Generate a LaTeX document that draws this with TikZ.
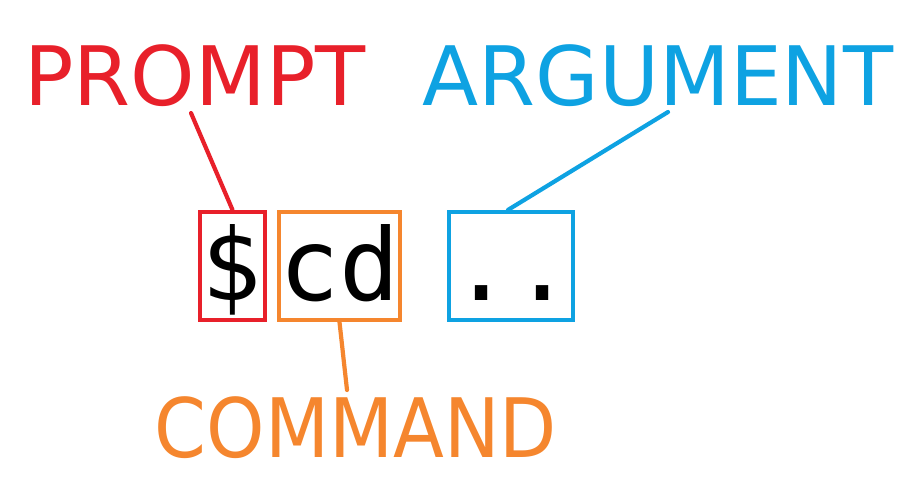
\documentclass[tikz,border=0pt]{standalone}
\usepackage{fontspec}
\usepackage{graphicx}
\setmainfont{DejaVu Sans}
\newfontfamily\cmdfont{DejaVu Sans Mono}
\definecolor{pred}{HTML}{E8202A}
\definecolor{porange}{HTML}{F5862E}
\definecolor{pblue}{HTML}{0EA2E2}
\begin{document}
\begin{tikzpicture}[x=1pt,y=-1pt,
  lbl/.style={font=\fontsize{82}{90}\selectfont, anchor=base, inner sep=0pt},
  cmd/.style={font=\cmdfont\fontsize{100}{110}\selectfont, anchor=base, inner sep=0pt, text=black},
  frame/.style={draw, line width=4.2pt, minimum height=108pt, inner sep=0pt},
  conn/.style={line width=4.2pt, line cap=round}]
\useasboundingbox (0,0) rectangle (907,482);
% labels
\node[lbl, text=pred] (prompt) at (195,105) {PROMPT};
\node[lbl, text=pblue] (argument) at (658,105) {ARGUMENT};
\node[lbl, text=porange] (command) at (356,457) {\scalebox{0.906}[1]{COMMAND}};
% boxes
\node[frame, draw=pred, minimum width=65pt] (pbox) at (232.5,266) {};
\node[frame, draw=porange, minimum width=121pt] (cbox) at (339.5,266) {};
\node[frame, draw=pblue, minimum width=124pt] (abox) at (511,266) {};
% texts
\node[cmd] (dollar) at (232,300) {\$};
\node[cmd] (cd) at (340,300) {cd};
\node[cmd] (dots) at (512,300) {..};
% connectors
\coordinate (pc) at (191,113);
\coordinate (ac) at (668,112);
\coordinate (cc) at (347,390);
\draw[conn, pred] (pc) -- (pbox.north);
\draw[conn, pblue] (ac) -- ([xshift=-3pt]abox.north);
\draw[conn, porange] (cbox.south) -- (cc);
\end{tikzpicture}
\end{document}
